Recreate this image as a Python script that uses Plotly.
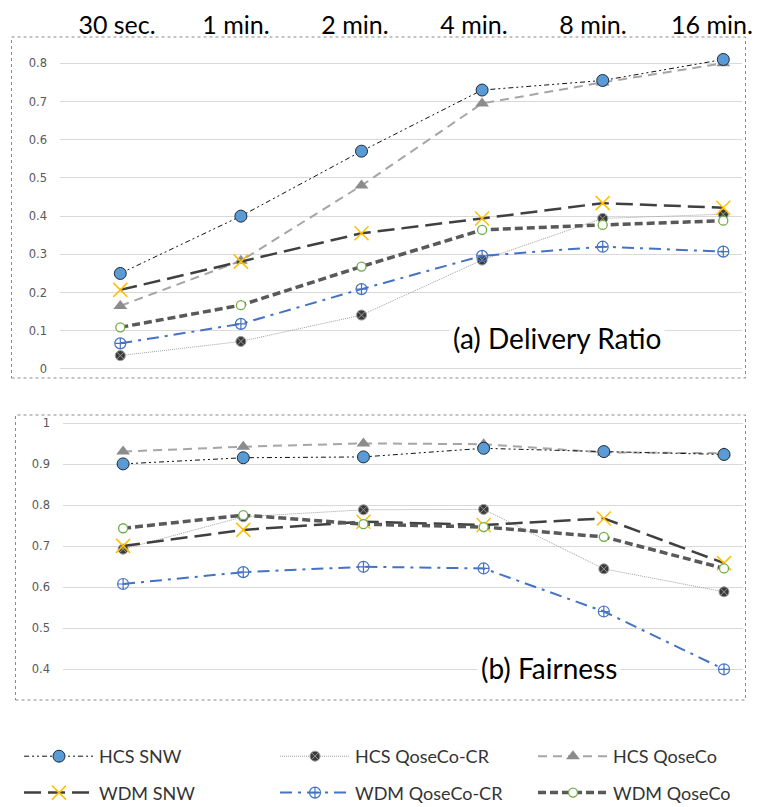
import plotly.graph_objects as go

# Time windows (shared by both panels)
categories = ["30 sec.", "1 min.", "2 min.", "4 min.", "8 min.", "16 min."]

# (a) Delivery ratio
dr_hcs_snw = [0.25, 0.40, 0.57, 0.73, 0.755, 0.81]
dr_hcs_qoseco_cr = [0.035, 0.072, 0.141, 0.285, 0.394, 0.405]
dr_hcs_qoseco = [0.165, 0.283, 0.48, 0.695, 0.75, 0.80]
dr_wdm_snw = [0.207, 0.281, 0.355, 0.394, 0.434, 0.422]
dr_wdm_qoseco_cr = [0.067, 0.118, 0.209, 0.296, 0.32, 0.307]
dr_wdm_qoseco = [0.109, 0.167, 0.268, 0.364, 0.377, 0.388]

# (b) Fairness
fa_hcs_snw = [0.901, 0.916, 0.918, 0.939, 0.931, 0.924]
fa_hcs_qoseco_cr = [0.693, 0.772, 0.789, 0.79, 0.645, 0.589]
fa_hcs_qoseco = [0.931, 0.943, 0.951, 0.949, 0.929, 0.927]
fa_wdm_snw = [0.701, 0.74, 0.76, 0.752, 0.768, 0.659]
fa_wdm_qoseco_cr = [0.608, 0.637, 0.65, 0.646, 0.541, 0.40]
fa_wdm_qoseco = [0.744, 0.776, 0.754, 0.747, 0.723, 0.646]

dr_ticks = [0, 0.1, 0.2, 0.3, 0.4, 0.5, 0.6, 0.7, 0.8]
fa_ticks = [0.4, 0.5, 0.6, 0.7, 0.8, 0.9, 1]

W, H = 758, 807


def px_x(p):
    return p / W


def px_y(p):
    return 1 - p / H


# Series styling: line, marker, legend column and row within the column
styles = {
    "HCS QoseCo-CR": dict(
        line=dict(color="#a0a0a0", width=1, dash="1px,1px"),
        marker=dict(symbol="circle-x", size=10, color="#3a3a3a",
                    line=dict(color="#9a9a9a", width=1)),
        legend="legend2", rank=1),
    "HCS QoseCo": dict(
        line=dict(color="#a6a6a6", width=2, dash="9px,6px"),
        marker=dict(symbol="triangle-up", size=12, color="#8c8c8c",
                    line=dict(width=0)),
        legend="legend3", rank=1),
    "HCS SNW": dict(
        line=dict(color="#111111", width=1, dash="5px,3px,2px,3px,2px,3px"),
        marker=dict(symbol="circle", size=12, color="#5b9bd5",
                    line=dict(color="#1d2a38", width=1)),
        legend="legend", rank=1),
    "WDM SNW": dict(
        line=dict(color="#404040", width=2.5, dash="17px,7px"),
        marker=dict(symbol="x-thin", size=14, color="#ffc000",
                    line=dict(color="#ffc000", width=1.5)),
        legend="legend", rank=2),
    "WDM QoseCo": dict(
        line=dict(color="#595959", width=3.5, dash="8px,4px"),
        marker=dict(symbol="circle", size=9, color="#ffffff",
                    line=dict(color="#70ad47", width=1.3)),
        legend="legend3", rank=2),
    "WDM QoseCo-CR": dict(
        line=dict(color="#4472c4", width=2, dash="12px,6px,3px,6px"),
        marker=dict(symbol="circle-cross-open", size=11, color="#4472c4",
                    line=dict(width=1.2)),
        legend="legend2", rank=2),
}

delivery = {
    "HCS QoseCo-CR": dr_hcs_qoseco_cr,
    "HCS QoseCo": dr_hcs_qoseco,
    "HCS SNW": dr_hcs_snw,
    "WDM SNW": dr_wdm_snw,
    "WDM QoseCo": dr_wdm_qoseco,
    "WDM QoseCo-CR": dr_wdm_qoseco_cr,
}
fairness = {
    "HCS QoseCo-CR": fa_hcs_qoseco_cr,
    "HCS QoseCo": fa_hcs_qoseco,
    "HCS SNW": fa_hcs_snw,
    "WDM SNW": fa_wdm_snw,
    "WDM QoseCo": fa_wdm_qoseco,
    "WDM QoseCo-CR": fa_wdm_qoseco_cr,
}

fig = go.Figure()

for name, vals in delivery.items():
    s = styles[name]
    fig.add_trace(go.Scatter(
        x=categories, y=vals, name=name, mode="lines+markers",
        line=s["line"], marker=s["marker"], xaxis="x", yaxis="y",
        legend=s["legend"], legendrank=s["rank"], legendgroup=name,
        cliponaxis=False, showlegend=True))

for name, vals in fairness.items():
    s = styles[name]
    fig.add_trace(go.Scatter(
        x=categories, y=vals, name=name, mode="lines+markers",
        line=s["line"], marker=s["marker"], xaxis="x2", yaxis="y2",
        legendgroup=name, cliponaxis=False, showlegend=False))

# Empty series that carries the time-window captions along the top axis
fig.add_trace(go.Scatter(
    x=categories, y=[None] * len(categories), xaxis="x3", yaxis="y",
    mode="lines", showlegend=False, hoverinfo="skip"))

tick_font = dict(family="DejaVu Sans", size=11.5, color="#595959")
legend_font = dict(family="Lato", size=18, color="#333333")

# One vertical legend per column: HCS entry on top, WDM entry below
legend_common = dict(
    orientation="v", xanchor="left", yanchor="bottom", y=-4 / H,
    itemwidth=70, tracegroupgap=10, bgcolor="rgba(0,0,0,0)",
    font=legend_font, traceorder="grouped",
    itemclick=False, itemdoubleclick=False)

fig.update_layout(
    width=W, height=H,
    margin=dict(l=0, r=0, t=0, b=0, autoexpand=False),
    paper_bgcolor="white", plot_bgcolor="white",
    font=dict(family="Lato", color="#262626"),
    xaxis=dict(
        domain=[px_x(60), px_x(742)], anchor="y", type="category",
        categoryorder="array", categoryarray=categories,
        range=[-0.5, 5.155], showgrid=False, zeroline=False,
        showline=False, showticklabels=False, ticks="", automargin=False),
    xaxis3=dict(
        overlaying="x", anchor="y", side="top", type="category",
        categoryorder="array", categoryarray=categories,
        range=[-0.479, 5.252], showgrid=False, zeroline=False,
        showline=False, ticks="", ticklabelstandoff=4, automargin=False,
        tickfont=dict(family="Lato", size=25, color="#000000")),
    yaxis=dict(
        domain=[px_y(376.6), px_y(44.2)], anchor="x", range=[-0.02, 0.85],
        tickvals=dr_ticks, ticktext=[f"{v:g}" for v in dr_ticks],
        showgrid=True, gridcolor="#d9d9d9", gridwidth=1, zeroline=False,
        showline=False, ticks="", ticklabelstandoff=12, automargin=False,
        tickfont=tick_font),
    xaxis2=dict(
        domain=[px_x(63), px_x(743)], anchor="y2", type="category",
        categoryorder="array", categoryarray=categories,
        range=[-0.5, 5.158], showgrid=False, zeroline=False, showline=False,
        showticklabels=False, ticks="", automargin=False),
    yaxis2=dict(
        domain=[px_y(681.6), px_y(415.1)], anchor="x2", range=[0.37, 1.02],
        tickvals=fa_ticks, ticktext=[f"{v:g}" for v in fa_ticks],
        showgrid=True, gridcolor="#d9d9d9", gridwidth=1, zeroline=False,
        showline=False, ticks="", ticklabelstandoff=12, automargin=False,
        tickfont=tick_font),
    legend=dict(x=px_x(19), **legend_common),
    legend2=dict(x=px_x(275), **legend_common),
    legend3=dict(x=px_x(533), **legend_common),
    annotations=[
        dict(text="(a) Delivery Ratio", xref="paper", yref="paper",
             x=px_x(557), y=px_y(338), xanchor="center", yanchor="middle",
             showarrow=False,
             font=dict(family="Lato", size=28, color="#000000"),
             bgcolor="white", borderpad=3),
        dict(text="(b) Fairness", xref="paper", yref="paper",
             x=px_x(549), y=px_y(668), xanchor="center", yanchor="middle",
             showarrow=False,
             font=dict(family="Lato", size=28, color="#000000"),
             bgcolor="white", borderpad=3),
    ],
    shapes=[
        dict(type="rect", xref="paper", yref="paper",
             x0=px_x(11.5), x1=px_x(745.5), y0=px_y(378), y1=px_y(37),
             line=dict(color="#8a8a8a", width=1, dash="dot"),
             fillcolor="rgba(0,0,0,0)", layer="below"),
        dict(type="rect", xref="paper", yref="paper",
             x0=px_x(15.5), x1=px_x(745.5), y0=px_y(700), y1=px_y(415),
             line=dict(color="#8a8a8a", width=1, dash="dot"),
             fillcolor="rgba(0,0,0,0)", layer="below"),
    ],
)

fig.write_html("out.html")
